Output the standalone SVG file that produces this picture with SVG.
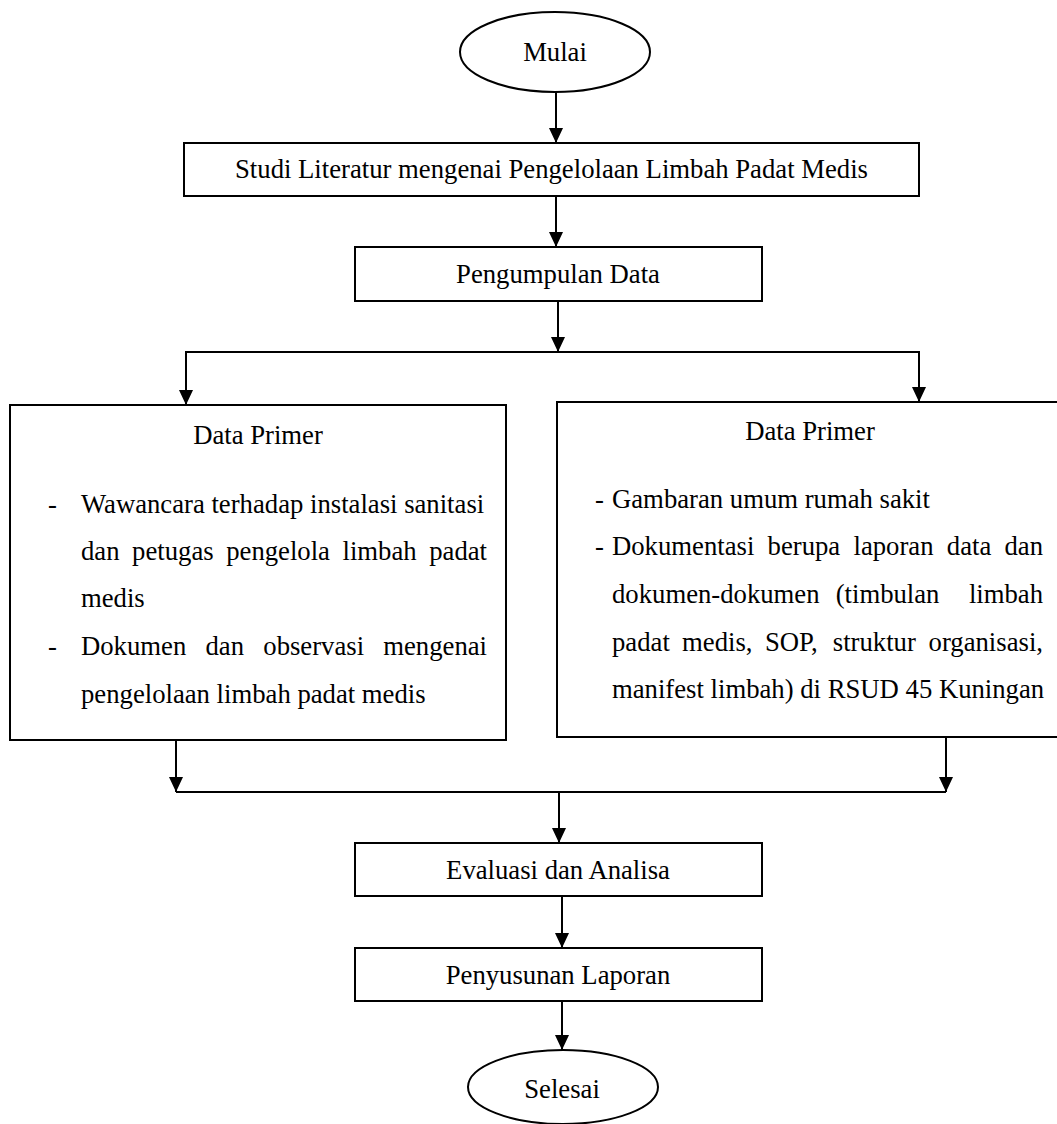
<svg xmlns="http://www.w3.org/2000/svg" width="1057" height="1124" viewBox="0 0 1057 1124">
<style>
.box{fill:#fff;stroke:#000;stroke-width:2}
.t{font-family:"Liberation Serif","Times New Roman",serif;font-size:26.7px;fill:#000}
.c{text-anchor:middle}
.ln{fill:none;stroke:#000;stroke-width:2}
</style>
<defs>
<marker id="ah" markerUnits="userSpaceOnUse" markerWidth="16" markerHeight="14" refX="15" refY="7" orient="auto" viewBox="0 0 16 14">
<path d="M0,0 L15,7 L0,14 Z" fill="#000"/>
</marker>
</defs>
<rect width="1057" height="1124" fill="#fff"/>
<g id="connectors">
<line class="ln" x1="556" y1="92" x2="556" y2="143" marker-end="url(#ah)"/>
<line class="ln" x1="556" y1="196" x2="556" y2="247" marker-end="url(#ah)"/>
<line class="ln" x1="558" y1="301" x2="558" y2="352" marker-end="url(#ah)"/>
<line class="ln" x1="185" y1="352" x2="920" y2="352"/>
<line class="ln" x1="186" y1="352" x2="186" y2="405" marker-end="url(#ah)"/>
<line class="ln" x1="919" y1="352" x2="919" y2="402" marker-end="url(#ah)"/>
<line class="ln" x1="176" y1="740" x2="176" y2="792" marker-end="url(#ah)"/>
<line class="ln" x1="946" y1="737" x2="946" y2="792" marker-end="url(#ah)"/>
<line class="ln" x1="176" y1="792" x2="946" y2="792"/>
<line class="ln" x1="559" y1="792" x2="559" y2="843" marker-end="url(#ah)"/>
<line class="ln" x1="562" y1="896" x2="562" y2="948" marker-end="url(#ah)"/>
<line class="ln" x1="562" y1="1001" x2="562" y2="1050" marker-end="url(#ah)"/>
</g>
<g id="mulai">
<ellipse class="box" cx="555" cy="52" rx="95" ry="40"/>
<text class="t c" x="555" y="61">Mulai</text>
</g>
<g id="studi">
<rect class="box" x="184" y="143" width="735" height="53"/>
<text class="t c" x="551.5" y="178">Studi Literatur mengenai Pengelolaan Limbah Padat Medis</text>
</g>
<g id="pengumpulan">
<rect class="box" x="355" y="247" width="407" height="54"/>
<text class="t c" x="558" y="283">Pengumpulan Data</text>
</g>
<g id="primer-kiri">
<rect class="box" x="10" y="405" width="496" height="335"/>
<text class="t c" x="258" y="444">Data Primer</text>
<text class="t" x="48" y="513">-</text>
<text class="t" x="81" y="513">Wawancara terhadap instalasi sanitasi</text>
<text class="t" y="560"><tspan x="81">dan</tspan><tspan x="132.1">petugas</tspan><tspan x="226.2">pengelola</tspan><tspan x="342.5">limbah</tspan><tspan x="487" text-anchor="end">padat</tspan></text>
<text class="t" x="81" y="607">medis</text>
<text class="t" x="48" y="655">-</text>
<text class="t" y="655"><tspan x="81">Dokumen</tspan><tspan x="205.5">dan</tspan><tspan x="263.3">observasi</tspan><tspan x="487" text-anchor="end">mengenai</tspan></text>
<text class="t" x="81" y="703">pengelolaan limbah padat medis</text>
</g>
<g id="primer-kanan">
<rect class="box" x="557" y="402" width="510" height="335"/>
<text class="t c" x="810" y="440">Data Primer</text>
<text class="t" x="595" y="508">-</text>
<text class="t" x="612" y="508">Gambaran umum rumah sakit</text>
<text class="t" x="595" y="555">-</text>
<text class="t" y="555"><tspan x="612">Dokumentasi</tspan><tspan x="767.6">berupa</tspan><tspan x="853.5">laporan</tspan><tspan x="946.8">data</tspan><tspan x="1043" text-anchor="end">dan</tspan></text>
<text class="t" y="603"><tspan x="612">dokumen-dokumen</tspan><tspan x="835.7">(timbulan</tspan><tspan x="1043" text-anchor="end">limbah</tspan></text>
<text class="t" y="651"><tspan x="612">padat</tspan><tspan x="682.1">medis,</tspan><tspan x="764.9">SOP,</tspan><tspan x="832.8">struktur</tspan><tspan x="1043" text-anchor="end">organisasi,</tspan></text>
<text class="t" x="612" y="698">manifest limbah) di RSUD 45 Kuningan</text>
</g>
<g id="evaluasi">
<rect class="box" x="355" y="843" width="407" height="53"/>
<text class="t c" x="558" y="879">Evaluasi dan Analisa</text>
</g>
<g id="penyusunan">
<rect class="box" x="355" y="948" width="407" height="53"/>
<text class="t c" x="558" y="984">Penyusunan Laporan</text>
</g>
<g id="selesai">
<ellipse class="box" cx="563" cy="1087" rx="95" ry="37"/>
<text class="t c" x="562" y="1098">Selesai</text>
</g>
</svg>
